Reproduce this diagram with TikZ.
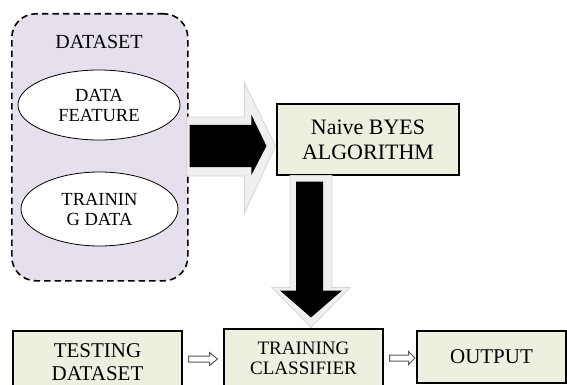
\documentclass[tikz,border=0pt]{standalone}
\usepackage{fontspec}
\setmainfont{Liberation Serif}
\usetikzlibrary{shapes.geometric,calc}
\definecolor{boxgreen}{HTML}{EBF1DE}
\definecolor{lav}{HTML}{E5E0EC}
\definecolor{glow}{HTML}{EFEFEF}
\definecolor{glowedge}{HTML}{D6D6D6}
\tikzset{
  container/.style={draw=black, fill=lav, dash pattern=on 6.5pt off 4pt, line width=1.6pt, rounded corners=24pt},
  ell/.style={ellipse, draw=black, fill=white, line width=0.8pt, align=center, inner sep=0pt},
  gbox/.style={draw=black, fill=boxgreen, line width=1.1pt, align=center, inner sep=0pt},
  glowarr/.style={fill=glow, draw=glowedge, line width=0.8pt},
  blackarr/.style={fill=black},
  smallarr/.style={fill=white, draw=black!65, line width=1pt, line join=miter}
}
\begin{document}
\begin{tikzpicture}[x=1pt,y=-1pt]
\useasboundingbox (0,0) rectangle (567,385);
\clip (0,0) rectangle (567,385);

% dataset container
\node[container, minimum width=176pt, minimum height=267pt, anchor=north west] (dataset) at (11,13) {};
\node[font=\fontsize{20}{22}\selectfont] (title) at (99,42) {DATASET};
\node[ell, minimum width=162pt, minimum height=70pt, font=\fontsize{18.5}{20}\selectfont] (feat) at (99,105) {DATA\\FEATURE};
\node[ell, minimum width=157pt, minimum height=74pt, font=\fontsize{18.5}{20}\selectfont] (train) at (99.5,209) {TRAININ\\G DATA};

% boxes
\node[gbox, minimum width=182pt, minimum height=71pt, font=\fontsize{22}{25}\selectfont] (naive) at (368,139.5) {Naive BYES\\ALGORITHM};
\node[gbox, minimum width=169pt, minimum height=62pt, font=\fontsize{21}{23}\selectfont] (testing) at (97.5,362) {TESTING\\DATASET};
\node[gbox, minimum width=159pt, minimum height=58pt, font=\fontsize{19}{20}\selectfont] (training) at (303.5,358) {TRAINING\\CLASSIFIER};
\node[gbox, minimum width=149pt, minimum height=52pt, font=\fontsize{21}{23}\selectfont] (output) at (491.5,357) {OUTPUT};

% big right arrow: dataset -> naive
\coordinate (ra) at (dataset.east |- 0,146);
\coordinate (rb) at (naive.west |- 0,146);
\draw[glowarr] ($(ra)+(-2,-29)$) -- ($(rb)+(-32,-29)$) -- ($(rb)+(-32,-63)$) -- ($(rb)+(-1,0)$)
  -- ($(rb)+(-32,67)$) -- ($(rb)+(-32,30)$) -- ($(ra)+(-2,30)$) -- cycle;
\fill[blackarr] ($(ra)+(1,-21)$) -- ($(rb)+(-25,-21)$) -- ($(rb)+(-25,-31)$) -- ($(rb)+(-10,0)$)
  -- ($(rb)+(-25,29)$) -- ($(rb)+(-25,21)$) -- ($(ra)+(1,21)$) -- cycle;

% big down arrow: naive -> training
\coordinate (da) at (naive.south -| 310,0);
\coordinate (db) at (training.north -| 311,0);
\draw[glowarr] ($(da)+(-20,0)$) -- ($(da)+(-20,112)$) -- ($(da)+(-38,112)$) -- ($(db)+(0,-1)$)
  -- ($(da)+(40,112)$) -- ($(da)+(22,112)$) -- ($(da)+(22,0)$) -- cycle;
\fill[blackarr] ($(da)+(-14,6)$) -- ($(da)+(-14,115)$) -- ($(da)+(-30,115)$) -- ($(db)+(0,-11)$)
  -- ($(da)+(32,115)$) -- ($(da)+(13,115)$) -- ($(da)+(13,6)$) -- cycle;

% small hollow arrows
\coordinate (s1) at (testing.east |- 0,359);
\draw[smallarr] ($(s1)+(6,-3)$) -- ($(s1)+(27,-3)$) -- ($(s1)+(27,-6.5)$) -- ($(training.west |- 0,359)+(-6,0)$)
  -- ($(s1)+(27,6.5)$) -- ($(s1)+(27,3)$) -- ($(s1)+(6,3)$) -- cycle;
\coordinate (s2) at (training.east |- 0,358);
\draw[smallarr] ($(s2)+(6,-3)$) -- ($(s2)+(25,-3)$) -- ($(s2)+(25,-6.5)$) -- ($(output.west |- 0,358)+(-1.5,0)$)
  -- ($(s2)+(25,6.5)$) -- ($(s2)+(25,3)$) -- ($(s2)+(6,3)$) -- cycle;
\end{tikzpicture}
\end{document}
